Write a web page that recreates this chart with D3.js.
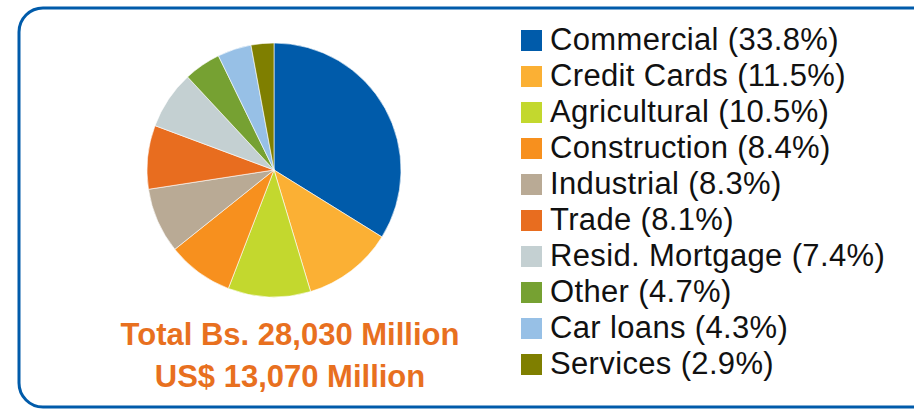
<!DOCTYPE html>
<html>
<head>
<meta charset="utf-8">
<script src="https://cdnjs.cloudflare.com/ajax/libs/d3/7.8.5/d3.min.js"></script>
<style>
  body { margin: 0; background: #fff; }
  svg { display: block; }
</style>
</head>
<body>
<div id="chart"></div>
<script>
// loan portfolio by sector
var categories = ["Commercial", "Credit Cards", "Agricultural", "Construction", "Industrial",
                  "Trade", "Resid. Mortgage", "Other", "Car loans", "Services"];
var shares = [33.8, 11.5, 10.5, 8.4, 8.3, 8.1, 7.4, 4.7, 4.3, 2.9];
var colors = ["#005baa", "#fbb034", "#c3d82e", "#f7901e", "#b9aa95",
              "#e86d1f", "#c4d0d2", "#76a132", "#97c0e6", "#7f7f00"];
var totals = ["Total Bs. 28,030 Million", "US$ 13,070 Million"];

var width = 914;
var height = 409;

var svg = d3.select("#chart").append("svg")
    .attr("width", width)
    .attr("height", height);

// rounded frame, runs off the right edge
svg.append("rect")
    .attr("x", 19)
    .attr("y", 8)
    .attr("width", 920)
    .attr("height", 399)
    .attr("rx", 24)
    .style("fill", "none")
    .style("stroke", "#005baa")
    .style("stroke-width", 3);

var data = categories.map(function(c, i) {
    return {name: c, value: shares[i], color: colors[i]};
});

var pie = d3.pie()
    .sort(null)
    .value(function(d) { return d.value; });

var arc = d3.arc()
    .innerRadius(0)
    .outerRadius(127);

var pieG = svg.append("g")
    .attr("transform", "translate(274,170)");

pieG.selectAll("path")
    .data(pie(data))
    .enter().append("path")
    .attr("d", arc)
    .style("fill", function(d) { return d.data.color; })
    .style("stroke", "#fff")
    .style("stroke-width", 0.6);

// totals under the pie
svg.selectAll("text.total")
    .data(totals)
    .enter().append("text")
    .attr("class", "total")
    .attr("x", 290)
    .attr("y", function(d, i) { return 345 + i * 42; })
    .attr("text-anchor", "middle")
    .style("font-family", "'Liberation Sans', Arial, sans-serif")
    .style("font-weight", "bold")
    .style("font-size", "31px")
    .style("fill", "#e8701f")
    .text(function(d) { return d; });

// legend
var rowH = 36;
var legend = svg.append("g")
    .attr("transform", "translate(521,30)");

var rows = legend.selectAll("g")
    .data(data)
    .enter().append("g")
    .attr("transform", function(d, i) { return "translate(0," + (i * rowH) + ")"; });

rows.append("rect")
    .attr("width", 21)
    .attr("height", 21)
    .style("fill", function(d) { return d.color; });

rows.append("text")
    .attr("x", 29)
    .attr("y", 19.5)
    .style("font-family", "'Liberation Sans', Arial, sans-serif")
    .style("font-size", "31px")
    .style("letter-spacing", "0.35px")
    .style("fill", "#111")
    .text(function(d) { return d.name + " (" + d.value.toFixed(1) + "%)"; });
</script>
</body>
</html>
